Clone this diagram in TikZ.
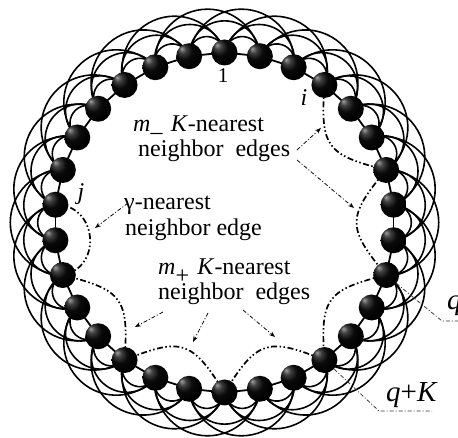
\documentclass[tikz,border=0pt]{standalone}
\usepackage{fontspec}
\setmainfont{Liberation Serif}
\usetikzlibrary{arrows.meta}
\pgfdeclareradialshading{darkball}{\pgfpoint{-15bp}{15bp}}{color(0bp)=(black!38); color(7bp)=(black!75); color(16bp)=(black!96); color(28bp)=(black); color(50bp)=(black)}
\begin{document}
\begin{tikzpicture}[x=1pt,y=1pt,
  ballnode/.style={circle, minimum size=26pt, inner sep=0pt, shading=darkball},
  ringarc/.style={line width=1.6pt, black},
  chainline/.style={line width=1.8pt, black},
  ddarc/.style={line width=1.7pt, black, dash pattern=on 6pt off 2.5pt on 1.5pt off 2.5pt on 1.5pt off 2.5pt},
  pointer/.style={line width=0.75pt, black, dash pattern=on 4pt off 2pt on 1pt off 2pt, -{Stealth[length=6pt,width=4.5pt]}},
  leader/.style={line width=0.75pt, black!80, dash pattern=on 4pt off 2pt on 1pt off 2pt},
  lbl/.style={font=\fontsize{24}{26}\selectfont, inner sep=0pt},
  biglbl/.style={font=\fontsize{29}{31}\selectfont, inner sep=0pt}
]
\useasboundingbox (0,0) rectangle (458,438);
\begin{scope}
\clip (0,0) rectangle (458,438);
% ---------------- ring ----------------
\begin{scope}[shift={(224.5,215.5)}]
  \foreach \k in {0,...,29}{\coordinate (p\k) at ({90-12*\k}:170);}
  \foreach \k in {0,...,29}{
    \foreach \m in {1,2,3}{
      \pgfmathsetmacro\amid{90-12*\k-6*\m}
      \pgfmathsetmacro\rr{170*sin(6*\m)}
      \draw[ringarc] (p\k) arc[start angle=\amid+90, end angle=\amid-90, radius=\rr];
    }
  }
  \foreach \k [evaluate=\k as \n using {int(mod(\k+1,30))}] in {0,...,29}{
    \draw[chainline] (p\k) -- (p\n);
  }
  \foreach \s in {3,6,9,12,15,18}{
    \pgfmathtruncatemacro\e{\s+3}
    \pgfmathsetmacro\ch{90-12*\s-108}
    \draw[ddarc] (p\s) to[out=\ch-40, in=\ch+220, looseness=1.5] (p\e);
  }
  \draw[ddarc] (p21) to[out=11, in=1, looseness=1.5] (p23);
  \foreach \k in {0,...,29}{\node[ballnode] (b\k) at (p\k) {};}
\end{scope}
% ---------------- labels (image coordinates) ----------------
\begin{scope}[shift={(0,438)}, yscale=-1]
  \node[lbl, anchor=base] (one) at (223,83) {\fontsize{21}{22}\selectfont 1};
  \node[lbl, anchor=base] (ilab) at (304,106) {\textit{i}};
  \node[lbl, anchor=base] (jlab) at (81,200) {\textit{j}};
  \node[lbl, anchor=base west] (mm1) at (133,132) {\textit{m}\_\hspace{0.35em}\textit{K}-nearest};
  \node[lbl, anchor=base west] (mm2) at (138,157) {neighbor\hspace{0.5em}edges};
  \node[lbl, anchor=base west] (g1) at (124,210) {γ-nearest};
  \node[lbl, anchor=base west] (g2) at (125,236) {neighbor edge};
  \node[lbl, anchor=base west] (mp1) at (158,275) {\textit{m}\raisebox{-9pt}{+}\hspace{0.35em}\textit{K}-nearest};
  \node[lbl, anchor=base west] (mp2) at (158,300) {neighbor\hspace{0.5em}edges};
  \node[biglbl, anchor=base west] (qlab) at (447,310) {\textit{q}};
  \node[biglbl, anchor=base west] (qklab) at (386,402) {\textit{q}+\textit{K}};
  % arrows
  \coordinate (a1s) at (297,150); \coordinate (a1e) at (321,128);
  \coordinate (a2s) at (297,160); \coordinate (a2e) at (354,208);
  \coordinate (a3s) at (128,203); \coordinate (a3e) at (95,228);
  \coordinate (a4s) at (163,312); \coordinate (a4e) at (135,327);
  \coordinate (a5s) at (208,313); \coordinate (a5e) at (193,342);
  \coordinate (a6s) at (243,310); \coordinate (a6e) at (275,337);
  \draw[pointer] (a1s) -- (a1e);
  \draw[pointer] (a2s) -- (a2e);
  \draw[pointer] (a3s) -- (a3e);
  \draw[pointer] (a4s) -- (a4e);
  \draw[pointer] (a5s) -- (a5e);
  \draw[pointer] (a6s) -- (a6e);
  % leaders
  \coordinate (qb) at (442,321); \coordinate (qe) at (470,321);
  \coordinate (qkb) at (379,411); \coordinate (qke) at (432,411);
  \draw[leader] (b9) -- (qb) -- (qe);
  \draw[leader] (b12) -- (qkb) -- (qke);
\end{scope}
\end{scope}
\end{tikzpicture}
\end{document}
